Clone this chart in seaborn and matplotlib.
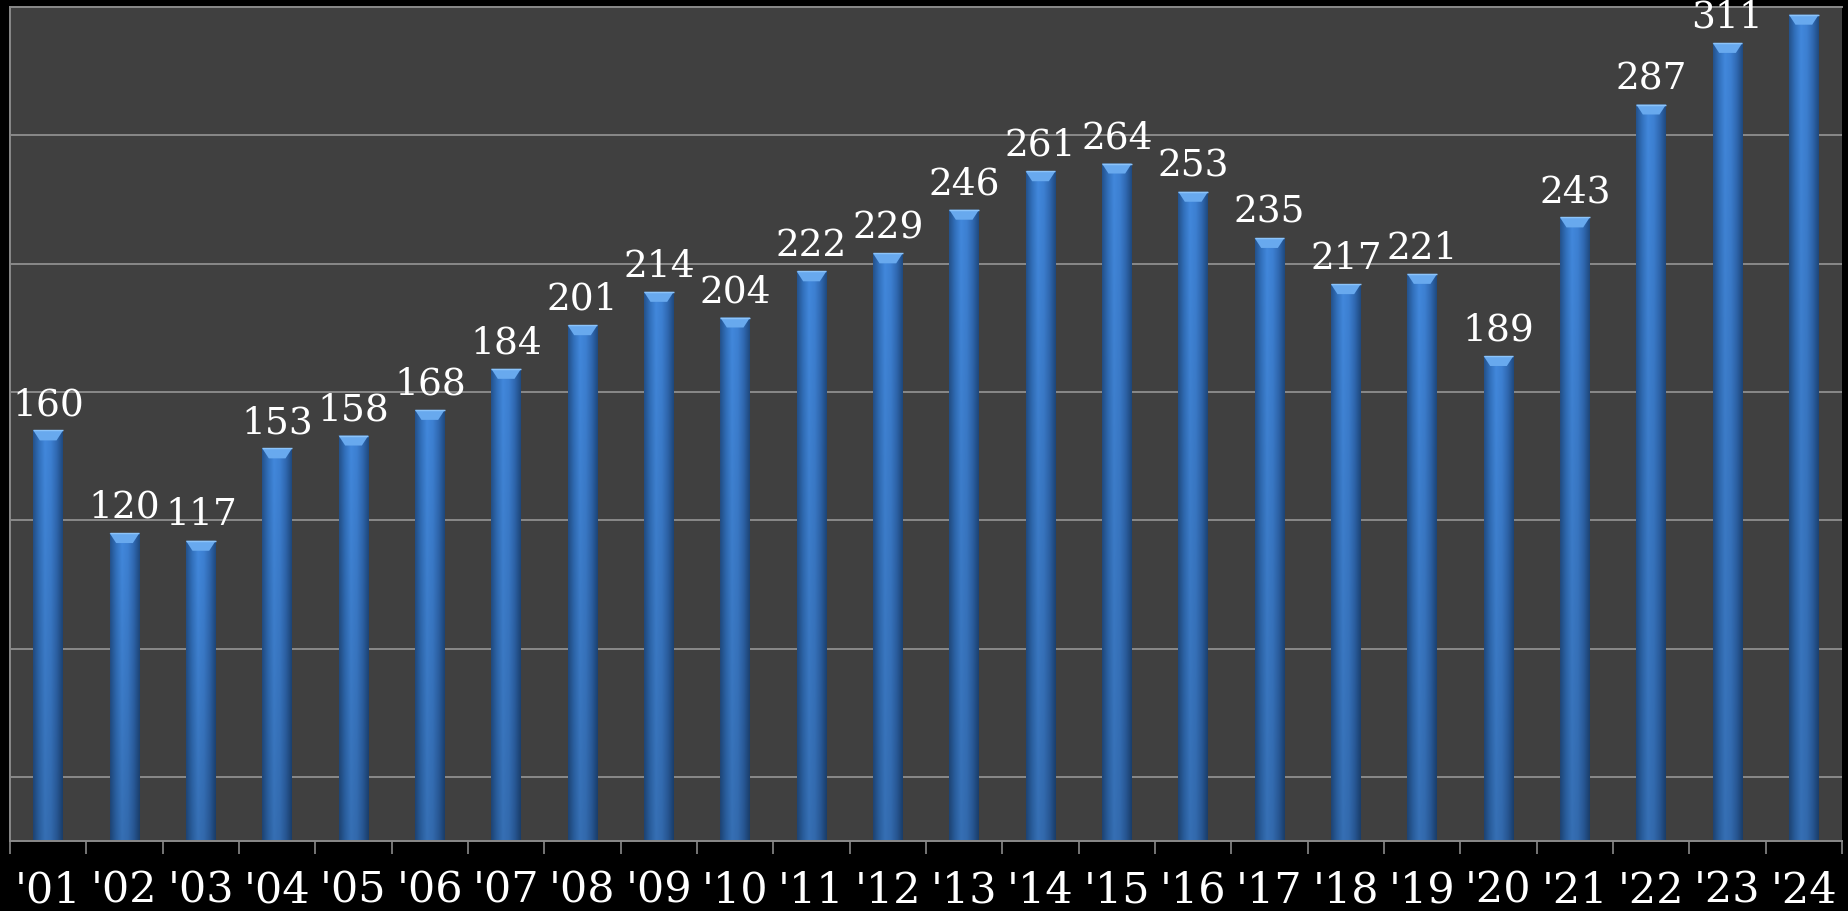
import numpy as np
import matplotlib
matplotlib.use("Agg")
import matplotlib.pyplot as plt
from matplotlib.patches import Polygon
from matplotlib.colors import LinearSegmentedColormap
import seaborn as sns
import pandas as pd

years = ["'01", "'02", "'03", "'04", "'05", "'06", "'07", "'08", "'09", "'10", "'11", "'12",
         "'13", "'14", "'15", "'16", "'17", "'18", "'19", "'20", "'21", "'22", "'23", "'24"]
values = [160, 120, 117, 153, 158, 168, 184, 201, 214, 204, 222, 229,
          246, 261, 264, 253, 235, 217, 221, 189, 243, 287, 311, 322]
grid_levels = [25, 75, 125, 175, 225, 275]

df = pd.DataFrame({"year": years, "value": values})

sns.set_theme(style="dark")
plt.rcParams['font.family'] = ['DejaVu Serif', 'DejaVu Sans']

W, H = 1849, 912
fig = plt.figure(figsize=(W / 100, H / 100), dpi=100, facecolor="black")
ax = fig.add_axes([10 / W, (H - 842) / H, (1842 - 10) / W, (842 - 8) / H])
ax.set_facecolor("#404040")

grid_col = "#8a8a8a"
for g in grid_levels:
    ax.axhline(g, color=grid_col, lw=1.4, zorder=0.5)

sns.barplot(data=df, x="year", y="value", color="#3a7cca", width=0.39,
            ax=ax, zorder=2, saturation=1, edgecolor="none", linewidth=0)

ax.set_xlim(-0.5, len(years) - 0.5)
ax.set_ylim(0, 325)

# cylinder-like shading on each bar
cmap = LinearSegmentedColormap.from_list(
    "cyl", ["#24528c", "#3271bd", "#4288dc", "#3d80d2", "#3069b2", "#1f4a80"])
xg = np.linspace(0, 1, 64)
for p in ax.patches:
    x0, y0 = p.get_x(), p.get_y()
    w, h = p.get_width(), p.get_height()
    vert = np.linspace(0.82, 1.0, 32)[:, None]
    img = cmap(xg)[None, :, :].repeat(32, axis=0)
    img[..., :3] *= vert[..., None]
    im = ax.imshow(img, extent=[x0, x0 + w, y0, y0 + h], origin="lower",
                   aspect="auto", zorder=2.1, interpolation="bilinear")
    im.set_clip_path(p)
    # bevel on the top
    bev = 10 / 2.569
    poly = Polygon([[x0, y0 + h], [x0 + w, y0 + h], [x0 + w * 0.78, y0 + h - bev],
                    [x0 + w * 0.22, y0 + h - bev]], closed=True,
                   facecolor="#68a9ee", edgecolor="none", zorder=2.2)
    ax.add_patch(poly)
    ax.add_patch(Polygon([[x0, y0 + h], [x0 + w, y0 + h]], closed=False,
                         edgecolor="#8cc4fa", lw=1.0, zorder=2.3))

for i, v in enumerate(values):
    ax.annotate(str(v), (i, v), xytext=(0, 6), textcoords="offset points",
                ha="center", va="bottom", color="white", fontsize=27,
                family=["DejaVu Serif"], zorder=5, annotation_clip=False)

ax.set_xlabel("")
ax.set_ylabel("")
ax.set_yticks([])
ax.set_xticks(range(len(years)))
ax.set_xticklabels(years, color="white", fontsize=31, family=["DejaVu Serif"])
ax.set_xticks(np.arange(-0.5, len(years), 1.0), minor=True)
ax.tick_params(axis="x", which="major", length=0, pad=20)
ax.tick_params(axis="x", which="minor", length=9.5, width=1.2, color=grid_col,
               bottom=True)
ax.grid(False)

for s in ax.spines.values():
    s.set_visible(True)
    s.set_color(grid_col)
    s.set_linewidth(1.4)
ax.spines["right"].set_visible(False)

fig.savefig("out.png", dpi=100, facecolor="black")
